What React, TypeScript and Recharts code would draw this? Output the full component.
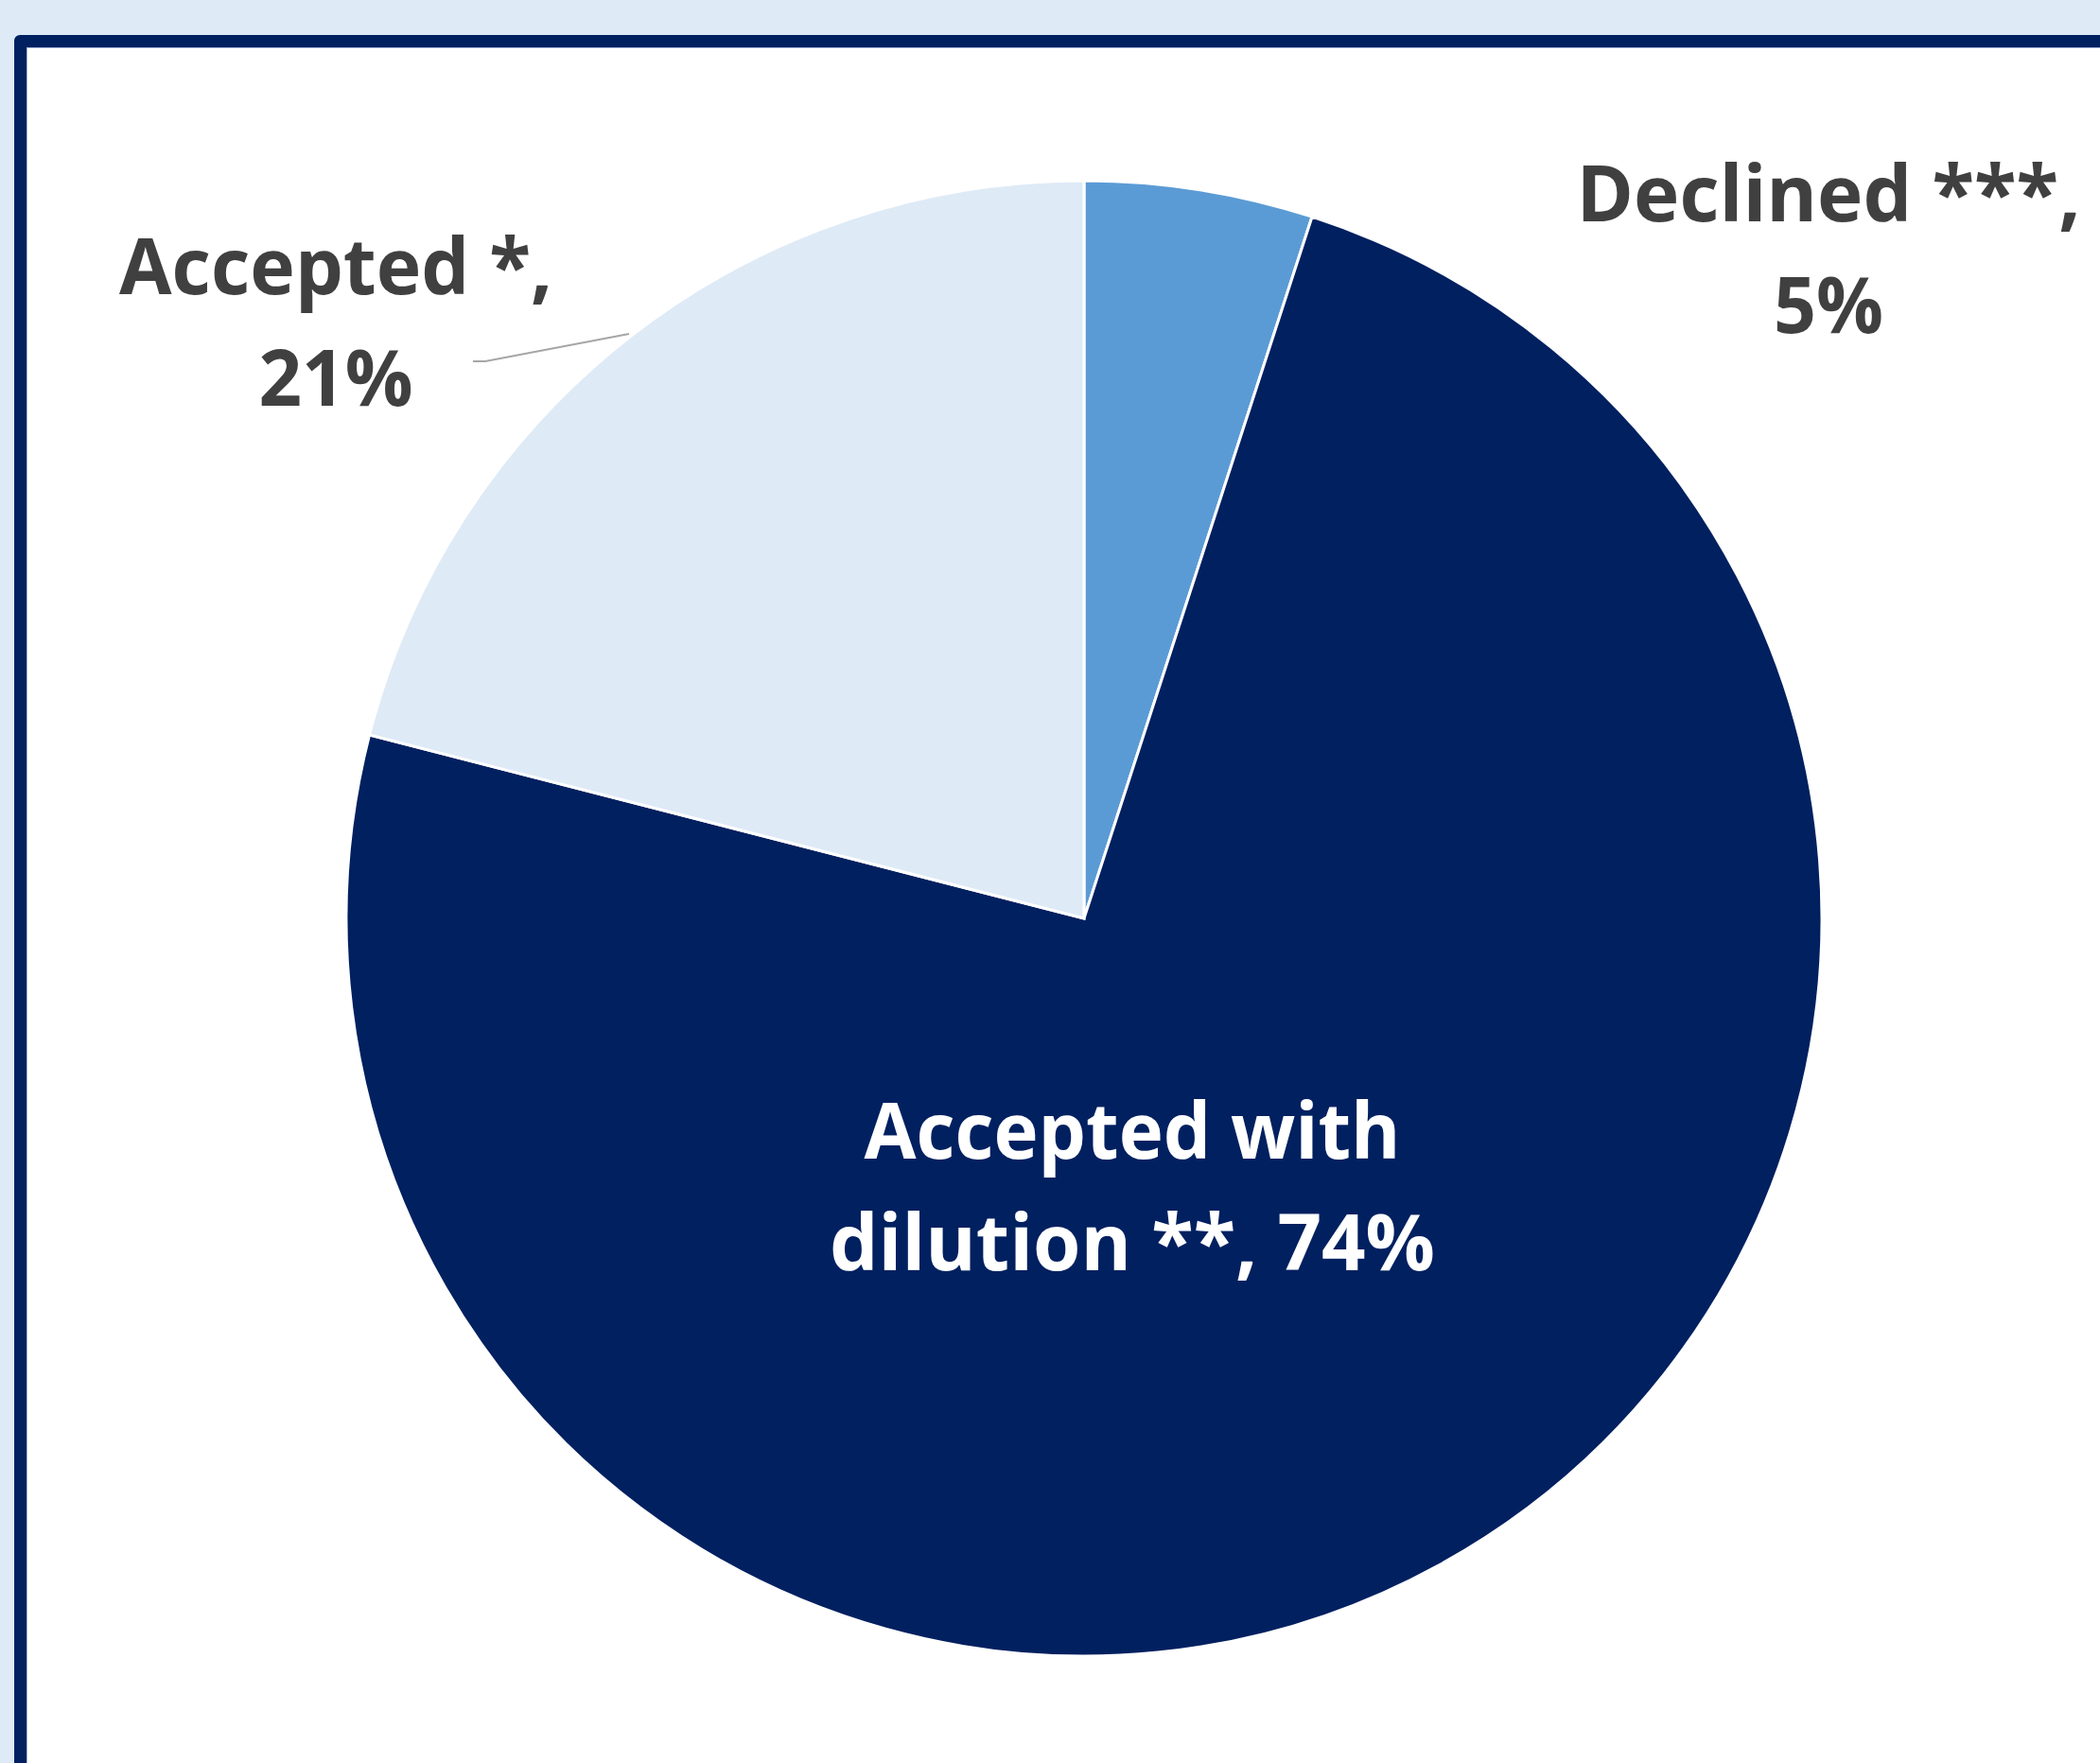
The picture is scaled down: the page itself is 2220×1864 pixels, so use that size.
import React from "react";
import { PieChart, Pie, Cell } from "recharts";

const categories = ["Declined ***", "Accepted with dilution **", "Accepted *"];
const shares = [5, 74, 21];
const labelLines = [
  ["Declined ***,", "5%"],
  ["Accepted with", "dilution **, 74%"],
  ["Accepted *,", "21%"],
];

const colors = ["#5B9BD5", "#002060", "#DEEAF6"];
const textColors = ["#404040", "#FFFFFF", "#404040"];

// label placement relative to pie centre
const labelLayout = [
  { dx: 787, dy: -737, widths: [533, 116] },
  { dx: 51, dy: 254, widths: [567, 640] },
  { dx: -791, dy: -660, widths: [458, 163] },
];
const leader = [
  [-646, -589],
  [-633, -589],
  [-481, -618],
];

const data = categories.map((name, i) => ({ name, value: shares[i] }));

const W = 2220;
const H = 1864;
const CX = 1146;
const CY = 971;
const R = 780;
const LINE_GAP = 118;

const renderLabel = (props: any) => {
  const { index, cx, cy } = props;
  const lay = labelLayout[index];
  const lines = labelLines[index];
  return (
    <g key={`lbl-${index}`}>
      {index === 2 && (
        <polyline
          points={leader.map(([x, y]) => `${cx + x},${cy + y}`).join(" ")}
          fill="none"
          stroke="#A6A6A6"
          strokeWidth={2}
        />
      )}
      {lines.map((t, j) => (
        <text
          key={j}
          x={cx + lay.dx}
          y={cy + lay.dy + j * LINE_GAP}
          textAnchor="middle"
          fill={textColors[index]}
          fontFamily="'Open Sans', Lato, sans-serif"
          fontWeight={700}
          fontSize={83}
          textLength={lay.widths[j]}
          lengthAdjust="spacingAndGlyphs"
        >
          {t}
        </text>
      ))}
    </g>
  );
};

export default function App() {
  return (
    <div
      style={{
        position: "fixed",
        left: 0,
        top: 0,
        width: W,
        height: H,
        overflow: "hidden",
        background: "#DEEAF6",
      }}
    >
      <div
        style={{
          position: "absolute",
          left: 15,
          top: 37,
          width: 2400,
          height: 2000,
          border: "13px solid #002060",
          borderRadius: 6,
          background: "#FFFFFF",
          boxShadow: "inset 1px 1px 0 0 #9DB3D8",
        }}
      />
      <div style={{ position: "absolute", left: 0, top: 0 }}>
        <PieChart width={W} height={H} margin={{ top: 0, right: 0, bottom: 0, left: 0 }}>
          <Pie
            data={data}
            dataKey="value"
            nameKey="name"
            cx={CX}
            cy={CY}
            outerRadius={R}
            startAngle={90}
            endAngle={-270}
            stroke="#FFFFFF"
            strokeWidth={3}
            label={renderLabel}
            labelLine={false}
            isAnimationActive={false}
          >
            {data.map((d, i) => (
              <Cell key={d.name} fill={colors[i]} />
            ))}
          </Pie>
        </PieChart>
      </div>
    </div>
  );
}
